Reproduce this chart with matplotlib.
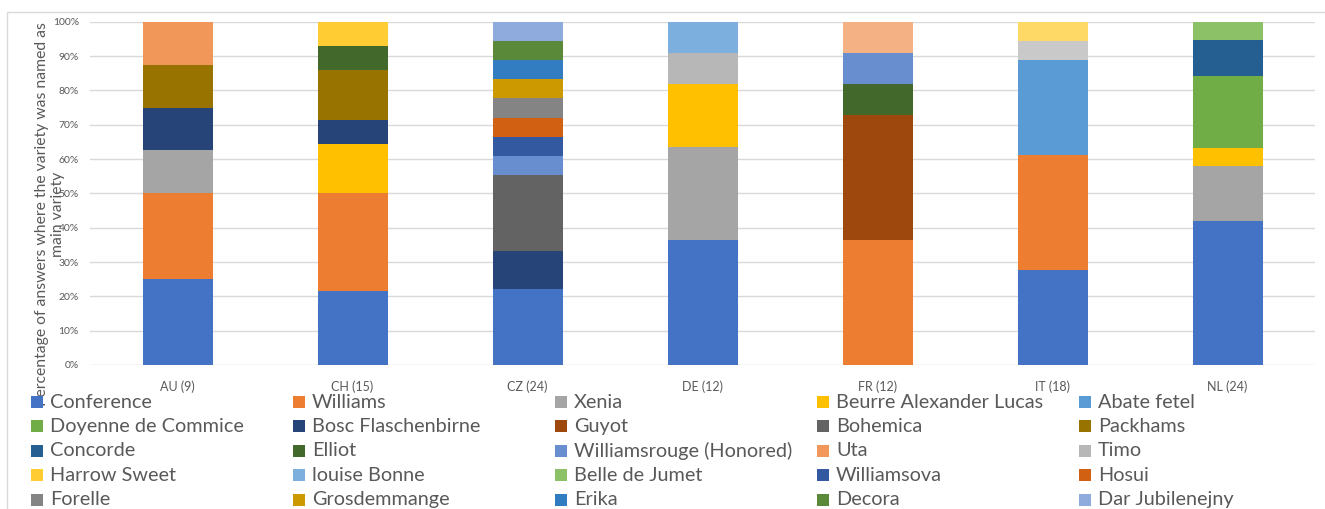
import matplotlib
matplotlib.use("Agg")
import numpy as np
import matplotlib.pyplot as plt
from matplotlib.patches import Rectangle

plt.rcParams["font.family"] = ["Lato", "DejaVu Sans"]

W, H = 1325, 509          # output size in pixels (dpi 100)
TXT = "#595959"

# ------------------------------------------------------------------ #
# Data: share (%) of answers naming each variety as main variety     #
# ------------------------------------------------------------------ #
countries = ["AU (9)", "CH (15)", "CZ (24)", "DE (12)", "FR (12)", "IT (18)", "NL (24)"]

conference     = [25.0, 21.4, 22.2, 36.4,  0.0, 27.8, 42.1]
williams       = [25.0, 28.6,  0.0,  0.0, 36.4, 33.3,  0.0]
xenia          = [12.5,  0.0,  0.0, 27.3,  0.0,  0.0, 15.8]
beurre_lucas   = [ 0.0, 14.3,  0.0, 18.2,  0.0,  0.0,  5.3]
abate_fetel    = [ 0.0,  0.0,  0.0,  0.0,  0.0, 27.8,  0.0]
doyenne        = [ 0.0,  0.0,  0.0,  0.0,  0.0,  0.0, 21.1]
bosc           = [12.5,  7.1, 11.1,  0.0,  0.0,  0.0,  0.0]
guyot          = [ 0.0,  0.0,  0.0,  0.0, 36.4,  0.0,  0.0]
bohemica       = [ 0.0,  0.0, 22.2,  0.0,  0.0,  0.0,  0.0]
packhams       = [12.5, 14.3,  0.0,  0.0,  0.0,  0.0,  0.0]
concorde       = [ 0.0,  0.0,  0.0,  0.0,  0.0,  0.0, 10.5]
elliot         = [ 0.0,  7.1,  0.0,  0.0,  9.1,  0.0,  0.0]
williamsrouge  = [ 0.0,  0.0,  5.6,  0.0,  9.1,  0.0,  0.0]
uta            = [12.5,  0.0,  0.0,  0.0,  0.0,  0.0,  0.0]
timo           = [ 0.0,  0.0,  0.0,  9.1,  0.0,  0.0,  0.0]
harrow_sweet   = [ 0.0,  7.1,  0.0,  0.0,  0.0,  0.0,  0.0]
louise_bonne   = [ 0.0,  0.0,  0.0,  9.1,  0.0,  0.0,  0.0]
belle_jumet    = [ 0.0,  0.0,  0.0,  0.0,  0.0,  0.0,  5.3]
williamsova    = [ 0.0,  0.0,  5.6,  0.0,  0.0,  0.0,  0.0]
hosui          = [ 0.0,  0.0,  5.6,  0.0,  0.0,  0.0,  0.0]
forelle        = [ 0.0,  0.0,  5.6,  0.0,  0.0,  0.0,  0.0]
grosdemmange   = [ 0.0,  0.0,  5.6,  0.0,  0.0,  0.0,  0.0]
erika          = [ 0.0,  0.0,  5.6,  0.0,  0.0,  0.0,  0.0]
decora         = [ 0.0,  0.0,  5.6,  0.0,  0.0,  0.0,  0.0]
dar_jubilenejny = [0.0,  0.0,  5.6,  0.0,  0.0,  0.0,  0.0]
# series whose legend entries fall below the cropped picture
unlisted_fr    = [ 0.0,  0.0,  0.0,  0.0,  9.1,  0.0,  0.0]
unlisted_it_a  = [ 0.0,  0.0,  0.0,  0.0,  0.0,  5.6,  0.0]
unlisted_it_b  = [ 0.0,  0.0,  0.0,  0.0,  0.0,  5.6,  0.0]

legend_names = [
    "Conference", "Williams", "Xenia", "Beurre Alexander Lucas", "Abate fetel",
    "Doyenne de Commice", "Bosc Flaschenbirne", "Guyot", "Bohemica", "Packhams",
    "Concorde", "Elliot", "Williamsrouge (Honored)", "Uta", "Timo",
    "Harrow Sweet", "louise Bonne", "Belle de Jumet", "Williamsova", "Hosui",
    "Forelle", "Grosdemmange", "Erika", "Decora", "Dar Jubilenejny",
]

series = [conference, williams, xenia, beurre_lucas, abate_fetel,
          doyenne, bosc, guyot, bohemica, packhams,
          concorde, elliot, williamsrouge, uta, timo,
          harrow_sweet, louise_bonne, belle_jumet, williamsova, hosui,
          forelle, grosdemmange, erika, decora, dar_jubilenejny,
          unlisted_fr, unlisted_it_a, unlisted_it_b]

colours = ["#4472C4", "#ED7D31", "#A5A5A5", "#FFC000", "#5B9BD5",
           "#70AD47", "#264478", "#9E480E", "#636363", "#997300",
           "#255E91", "#43682B", "#698ED0", "#F1975A", "#B7B7B7",
           "#FFCD33", "#7CAFDD", "#8CC168", "#335AA1", "#D26012",
           "#848484", "#CC9A00", "#327DC2", "#5A8A39", "#8FAADC",
           "#F4B183", "#C9C9C9", "#FFD966"]

# 100% stacked: normalise each country column
vals = np.array(series, dtype=float)
vals = vals / vals.sum(axis=0, keepdims=True) * 100

# ------------------------------------------------------------------ #
# Figure                                                             #
# ------------------------------------------------------------------ #
fig = plt.figure(figsize=(W / 100, H / 100), dpi=100)
ax = fig.add_axes([90 / W, 1 - 365 / H, 1225 / W, 343.3 / H])

x = np.arange(len(countries))
bottom = np.zeros(len(countries))
for row, col in zip(vals, colours):
    ax.bar(x, row, bottom=bottom, width=0.4, color=col, linewidth=0, zorder=3)
    bottom += row

ax.set_xlim(-0.5, len(countries) - 0.5)
ax.set_ylim(0, 100)
ax.set_yticks(np.arange(0, 101, 10))
ax.set_yticklabels([f"{v}%" for v in range(0, 101, 10)])
ax.set_xticks(x)
ax.set_xticklabels(countries)
ax.tick_params(axis="y", length=0, pad=8, labelsize=7.5, labelcolor=TXT)
ax.tick_params(axis="x", length=0, pad=11, labelsize=9, labelcolor=TXT)
ax.grid(axis="y", color="#D9D9D9", linewidth=1.0, zorder=0)
for s in ax.spines.values():
    s.set_visible(False)

# chart area border (only top/left edges fall inside the crop)
fig.add_artist(Rectangle((7 / W, -0.1), 1.2, (H - 12) / H + 0.1,
                         transform=fig.transFigure, fill=False,
                         edgecolor="#D9D9D9", linewidth=1.0))

fig.text(50 / W, 1 - 214 / H,
         "Percentage of answers where the variety was named as\nmain variety",
         rotation=90, ha="center", va="center", multialignment="center",
         fontsize=11.3, color=TXT, zorder=1)

# legend: Excel fills it row by row with equal column widths
for i, (name, col) in enumerate(zip(legend_names, colours)):
    r, c = divmod(i, 5)
    x0 = 31 + 262 * c
    yc = 402 + 24.4 * r
    fig.add_artist(Rectangle((x0 / W, 1 - (yc + 6) / H), 12 / W, 12 / H,
                             transform=fig.transFigure, facecolor=col,
                             edgecolor="none", zorder=5))
    fig.text((x0 + 19) / W, 1 - yc / H, name, ha="left", va="center",
             fontsize=14.3, color=TXT)

fig.savefig("out.png", dpi=100)
